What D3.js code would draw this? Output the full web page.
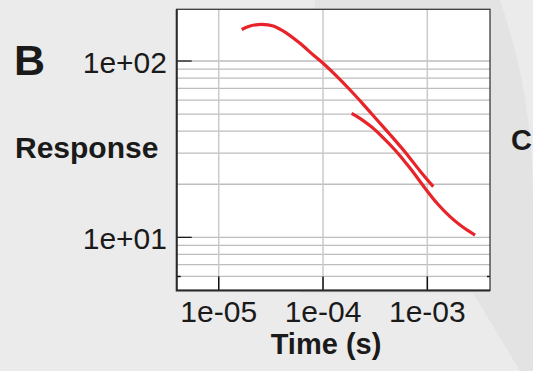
<!DOCTYPE html>
<html>
<head>
<meta charset="utf-8">
<script src="https://cdn.jsdelivr.net/npm/d3@7"></script>
<style>
    body { margin: 0; background: #ebebeb; }
    svg { display: block; }
    text { font-family: "Liberation Sans", Arial, sans-serif; fill: #1a1a1a; }
</style>
</head>
<body>
<div id="chart"></div>
<script>
// Long curve (time in s, response)
const longTime = [1.66e-5, 2.0e-5, 2.58e-5, 3.34e-5, 4.49e-5, 6.02e-5, 8.07e-5, 1.007e-4,
    1.35e-4, 1.82e-4, 2.42e-4, 3.27e-4, 4.39e-4, 6.11e-4, 8.51e-4, 1.14e-3];
const longResp = [151, 158, 161.5, 158, 143.6, 126, 108.2, 96.8,
    82.2, 68.5, 57.0, 46.6, 38.3, 30.5, 23.8, 19.4];

// Short curve
const shortTime = [1.88e-4, 2.26e-4, 2.93e-4, 3.76e-4, 4.9e-4, 6.82e-4, 9.5e-4, 1.24e-3,
    1.65e-3, 2.2e-3, 2.87e-3];
const shortResp = [50.5, 47.3, 42.2, 36.8, 31.3, 24.7, 19.0, 15.6, 13.1, 11.4, 10.3];

// Ticks
const xTicks = [1e-5, 1e-4, 1e-3];
const xTickLabels = ["1e-05", "1e-04", "1e-03"];
const yTicks = [100, 10];
const yTickLabels = ["1e+02", "1e+01"];
const yGrid = [6, 7, 8, 9, 10, 20, 30, 40, 50, 60, 70, 80, 90, 100];
const yMinorTicks = [6];

const width = 533;
const height = 371;
const plotLeft = 176.7, plotRight = 490, plotTop = 9.3, plotBottom = 290.4;

const svg = d3.select("#chart")
    .append("svg")
    .attr("width", width)
    .attr("height", height);

// background shading behind the panel
svg.append("rect").attr("width", width).attr("height", height).attr("fill", "#ebebeb");
svg.append("path")
    .attr("d", "M315,0 L500,0 C520,60 533,120 533,200 L533,371 L520,371 L473,293 L300,293 Z")
    .attr("fill", "#e3e3e3");

const x = d3.scaleLog()
    .domain([3.954e-6, 3.99e-3])
    .range([plotLeft, plotRight]);

const y = d3.scaleLog()
    .domain([5, 196.5])
    .range([plotBottom, plotTop]);

// plot area
svg.append("rect")
    .attr("x", plotLeft).attr("y", plotTop)
    .attr("width", plotRight - plotLeft).attr("height", plotBottom - plotTop)
    .attr("fill", "#fff");

// grid
svg.append("g")
    .selectAll("line")
    .data(yGrid)
    .join("line")
    .attr("x1", plotLeft).attr("x2", plotRight)
    .attr("y1", d => y(d)).attr("y2", d => y(d))
    .attr("stroke", "#bdbdbd")
    .attr("stroke-width", 1.3);

svg.append("g")
    .selectAll("line")
    .data(xTicks)
    .join("line")
    .attr("x1", d => x(d)).attr("x2", d => x(d))
    .attr("y1", plotTop).attr("y2", plotBottom)
    .attr("stroke", "#cacaca")
    .attr("stroke-width", 1.5);

// inward tick marks
svg.append("g")
    .selectAll("line")
    .data(yTicks)
    .join("line")
    .attr("x1", plotLeft).attr("x2", plotLeft + 15)
    .attr("y1", d => y(d)).attr("y2", d => y(d))
    .attr("stroke", "#111")
    .attr("stroke-width", 1.2);

// little marks at 6 on both sides
svg.append("g")
    .selectAll("path")
    .data(yMinorTicks)
    .join("path")
    .attr("d", d => `M${plotLeft},${y(d)}h4M${plotRight},${y(d)}h-3`)
    .attr("stroke", "#111")
    .attr("stroke-width", 1.5);

svg.append("g")
    .selectAll("line")
    .data(xTicks)
    .join("line")
    .attr("x1", d => x(d)).attr("x2", d => x(d))
    .attr("y1", plotBottom).attr("y2", plotBottom - 14)
    .attr("stroke", "#111")
    .attr("stroke-width", 1.5);

// frame
svg.append("rect")
    .attr("x", plotLeft).attr("y", plotTop)
    .attr("width", plotRight - plotLeft).attr("height", plotBottom - plotTop)
    .attr("fill", "none")
    .attr("stroke", "#3a3a3a")
    .attr("stroke-width", 1.3);
svg.append("path")
    .attr("d", `M${plotLeft},${plotTop} V${plotBottom} H${plotRight}`)
    .attr("fill", "none")
    .attr("stroke", "#2a2a2a")
    .attr("stroke-width", 2);

// curves
const line = d3.line()
    .x(d => x(d[0]))
    .y(d => y(d[1]))
    .curve(d3.curveCatmullRom.alpha(0.5));

[[longTime, longResp], [shortTime, shortResp]].forEach(function (s) {
    svg.append("path")
        .datum(d3.zip(s[0], s[1]))
        .attr("d", line)
        .attr("fill", "none")
        .attr("stroke", "#e8232a")
        .attr("stroke-width", 3.2)
        .attr("stroke-linecap", "butt");
});

// tick labels
svg.append("g")
    .selectAll("text")
    .data(yTicks)
    .join("text")
    .attr("x", 167)
    .attr("y", d => y(d) + 12)
    .attr("text-anchor", "end")
    .attr("font-size", 30)
    .text((_, i) => yTickLabels[i]);

svg.append("g")
    .selectAll("text")
    .data(xTicks)
    .join("text")
    .attr("x", d => x(d))
    .attr("y", 321.7)
    .attr("text-anchor", "middle")
    .attr("font-size", 30)
    .text((_, i) => xTickLabels[i]);

// titles
svg.append("text")
    .attr("x", 326).attr("y", 354)
    .attr("text-anchor", "middle")
    .attr("font-size", 29)
    .attr("font-weight", "bold")
    .text("Time (s)");

svg.append("text")
    .attr("x", 15).attr("y", 158)
    .attr("font-size", 30)
    .attr("font-weight", "bold")
    .text("Response");

svg.append("text")
    .attr("x", 14).attr("y", 75)
    .attr("font-size", 43)
    .attr("font-weight", "bold")
    .text("B");

svg.append("text")
    .attr("x", 511).attr("y", 150)
    .attr("font-size", 29)
    .attr("font-weight", "bold")
    .text("C");
</script>
</body>
</html>
